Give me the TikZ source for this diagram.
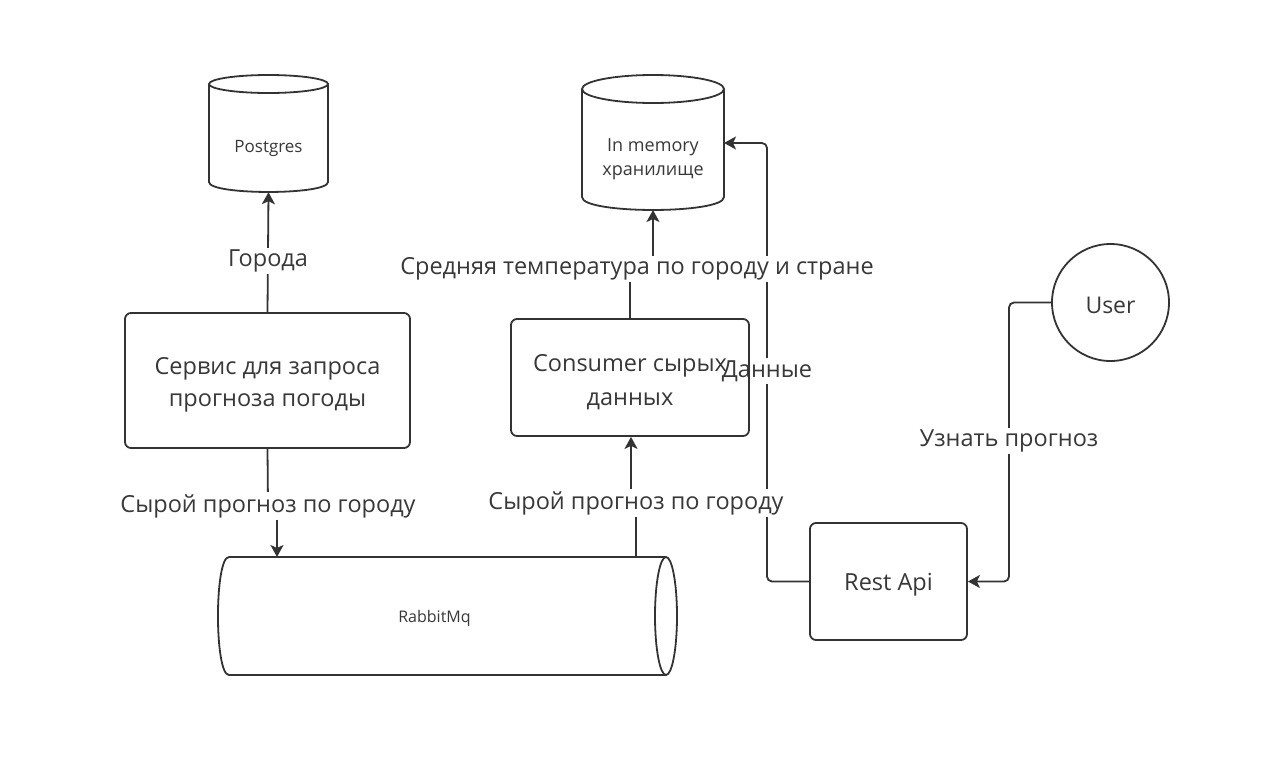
\documentclass[tikz,border=0pt]{standalone}
\usepackage{fontspec}
\setmainfont{Open Sans}
\usetikzlibrary{arrows.meta}
\definecolor{ln}{HTML}{333333}
\definecolor{tx}{HTML}{383838}
\pgfdeclarelayer{back}
\pgfdeclarelayer{bg}
\pgfdeclarelayer{mid}
\pgfsetlayers{back,bg,mid,main}
\begin{document}
\begin{tikzpicture}[x=1pt,y=-1pt,
  edge/.style={draw=ln,line width=1.8pt,rounded corners=5pt},
  arr/.style={-{Stealth[length=12pt,width=13pt,inset=3pt]}},
  box/.style={draw=ln,line width=1.8pt,rounded corners=6pt,inner sep=0pt},
  btxt/.style={inner sep=0pt,align=center,font=\fontsize{23.5}{32}\selectfont,text=tx},
  ghost/.style={inner sep=0pt},
  lbl/.style={fill=white,inner sep=2pt,font=\fontsize{23.5}{28}\selectfont,text=tx},
  small/.style={inner sep=0pt,align=center,text=tx},
  shp/.style={draw=ln,line width=1.8pt}
]
\begin{pgfonlayer}{back}
\useasboundingbox[fill=white] (0,0) rectangle (1280,774);
\end{pgfonlayer}

% ---------- nodes ----------
\node[box,minimum width=285pt,minimum height=135pt] (svc) at (267.5,380.5) {};
\node[btxt] (svct) at (267.5,384.5) {Сервис для запроса\\прогноза погоды};
\node[box,minimum width=238pt,minimum height=117pt] (cons) at (630,377.5) {};
\node[btxt,font=\fontsize{23.5}{34}\selectfont] (const) at (630,382.5) {Consumer сырых\\данных};
\node[box,minimum width=157pt,minimum height=117pt] (api) at (888.5,581.5) {};
\node[btxt] (apit) at (888.5,585) {Rest Api};
\node[draw=ln,line width=1.8pt,circle,minimum size=117pt,inner sep=0pt] (user) at (1110.5,302.5) {};
\node[btxt,font=\fontsize{23}{28}\selectfont] (usert) at (1110.5,305.5) {User};

% Postgres cylinder
\node[ghost,minimum width=119pt,minimum height=117pt] (pg) at (268.5,133.5) {};
\draw[shp] (268.5,84) ellipse [x radius=59.5, y radius=9];
\draw[shp] (209,84) -- (209,182) .. controls (209,195.3) and (328,195.3) .. (328,182) -- (328,84);
\node[small,font=\fontsize{17}{20}\selectfont] (pgt) at (268.5,148) {Postgres};

% In memory cylinder
\node[ghost,minimum width=142pt,minimum height=135pt] (im) at (653,142.5) {};
\draw[shp] (653,89) ellipse [x radius=71, y radius=14];
\draw[shp] (582,89) -- (582,197) .. controls (582,214.3) and (724,214.3) .. (724,197) -- (724,89);
\node[small,font=\fontsize{18}{24}\selectfont] (imt) at (653,159.5) {In memory\\хранилище};

% RabbitMq cylinder (horizontal)
\node[ghost,minimum width=459pt,minimum height=118pt] (rmq) at (447.5,616) {};
\draw[shp] (666,616) ellipse [x radius=11, y radius=59];
\draw[shp] (666,557) -- (229,557) .. controls (214.3,557) and (214.3,675) .. (229,675) -- (666,675);
\node[small,font=\fontsize{16}{18}\selectfont] (rmqt) at (434.5,618) {RabbitMq};

\coordinate (rin) at (277,557);
\coordinate (rout) at (636,557);
\coordinate (imin) at (653,210);
\coordinate (imside) at (724,143);

% ---------- labels ----------
\begin{pgfonlayer}{mid}
\node[lbl] (l1) at (268,261) {Города};
\node[lbl] (l2) at (268,506) {Сырой прогноз по городу};
\node[lbl] (l3) at (636,503) {Сырой прогноз по городу};
\node[lbl] (l4) at (637,269) {Средняя температура по городу и стране};
\node[lbl] (l5) at (767,371) {Данные};
\node[lbl] (l6) at (1009,441) {Узнать прогноз};
\end{pgfonlayer}

% ---------- connectors ----------
\begin{pgfonlayer}{bg}
\draw[edge,arr] (svc.north) -- (pg.south);
\draw[edge,arr,rounded corners=0pt] (svc.south) -- (268,506) -- (277,506) -- (rin);
\draw[edge,arr,rounded corners=0pt] (rout) -- (636,503) -- (631,503) -- (cons.south -| 631,0);
\draw[edge,arr,rounded corners=0pt] (cons.north) -- (630,269) -- (653,269) -- (imin);
\draw[edge,arr] (api.west) -- (767,581.5) -- (767,143) -- (imside);
\draw[edge,arr] (user.west) -- (1009,302.5) -- (1009,581.5) -- (api.east);
\end{pgfonlayer}
\end{tikzpicture}
\end{document}
